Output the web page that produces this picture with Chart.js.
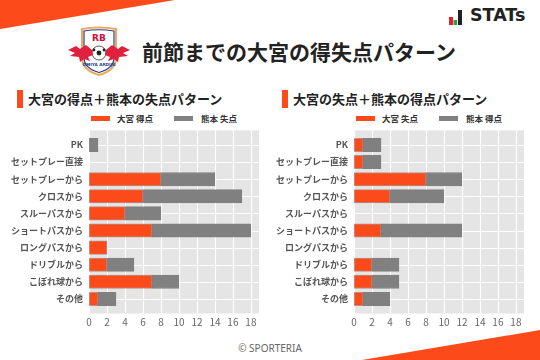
<!DOCTYPE html>
<html lang="ja">
<head>
<meta charset="utf-8">
<script src="https://cdn.jsdelivr.net/npm/chart.js@4.4.1/dist/chart.umd.min.js"></script>
<style>
  html, body { margin: 0; padding: 0; background: #fff; }
  #page { position: relative; width: 540px; height: 360px; overflow: hidden; font-family: "Noto Sans CJK JP", "Noto Sans", sans-serif; }
  .abs { position: absolute; }
  .title { left: 142px; top: 36px; font-size: 21px; font-weight: bold; color: #222; white-space: nowrap; letter-spacing: 0px; }
  .sub { font-size: 13px; font-weight: bold; color: #222; white-space: nowrap; }
  .subbar { width: 6px; height: 18px; background: #fc4a1a; }
  .leg { font-size: 8.5px; font-weight: bold; color: #333; white-space: nowrap; }
  .legbox { width: 19px; height: 5px; }
  .stats { left: 470px; top: 5px; font-family: "DejaVu Sans", sans-serif; font-weight: bold; font-size: 17.5px; color: #222; }
  .copy { left: 0; width: 540px; top: 341px; text-align: center; font-family: "Noto Sans", sans-serif; font-size: 10px; color: #666; }
</style>
</head>
<body>
<div id="page">
  <svg class="abs" style="left:0;top:0" width="540" height="360">
    <polygon points="0,0 175,0 0,29" fill="#fc4a1a"/>
    <polygon points="362,360 540,330 540,360" fill="#fc4a1a"/>
    <!-- STATs icon -->
    <rect x="449" y="17" width="4" height="8" fill="#e8202a"/>
    <rect x="453.5" y="20" width="3.5" height="5" fill="#2aa040"/>
    <rect x="458" y="10" width="4" height="15" fill="#222"/>
    <!-- crest -->
    <path d="M82,29 Q99,26 116,29 L116,58 Q116,70 99,75 Q82,70 82,58 Z" fill="#fff" stroke="#f2a65a" stroke-width="2"/>
    <path d="M84,31 Q99,28.5 114,31 L114,58 Q114,68 99,72.5 Q84,68 84,58 Z" fill="#fff" stroke="#22408a" stroke-width="1.2"/>
    <text x="99" y="41" text-anchor="middle" font-family="DejaVu Sans" font-weight="bold" font-size="9" fill="#d0103a">RB</text>
    <circle cx="99" cy="53" r="7" fill="#fff" stroke="#333" stroke-width="0.8"/>
    <circle cx="99" cy="53" r="2.4" fill="#222"/>
    <circle cx="94" cy="50" r="1.4" fill="#222"/>
    <circle cx="104" cy="50" r="1.4" fill="#222"/>
    <path d="M68,50 L76,46 L80,49 L86,45 L92,50 L93,55 L88,57 L90,61 L84,59 L80,62 L79,57 L70,56 L75,53 Z" fill="#e0203c"/>
    <path d="M130,50 L122,46 L118,49 L112,45 L106,50 L105,55 L110,57 L108,61 L114,59 L118,62 L119,57 L128,56 L123,53 Z" fill="#e0203c"/>
    <text x="99" y="66" text-anchor="middle" font-family="DejaVu Sans" font-weight="bold" font-size="4.2" fill="#22408a">OMIYA ARDIJA</text>
  </svg>
  <div class="abs stats">STATs</div>
  <div class="abs title">前節までの大宮の得失点パターン</div>

  <div class="abs subbar" style="left:17px;top:90px"></div>
  <div class="abs sub" style="left:28px;top:89px">大宮の得点＋熊本の失点パターン</div>
  <div class="abs subbar" style="left:282px;top:90px"></div>
  <div class="abs sub" style="left:293px;top:89px">大宮の失点＋熊本の得点パターン</div>

  <div class="abs legbox" style="left:91px;top:116px;background:#fc4a1a"></div>
  <div class="abs leg" style="left:117px;top:112px">大宮 得点</div>
  <div class="abs legbox" style="left:174px;top:116px;background:#808080"></div>
  <div class="abs leg" style="left:201px;top:112px">熊本 失点</div>
  <div class="abs legbox" style="left:356px;top:116px;background:#fc4a1a"></div>
  <div class="abs leg" style="left:382px;top:112px">大宮 失点</div>
  <div class="abs legbox" style="left:439px;top:116px;background:#808080"></div>
  <div class="abs leg" style="left:466px;top:112px">熊本 得点</div>

  <div class="abs" style="left:0;top:125px;width:270px;height:208px"><canvas id="leftChart" width="270" height="208"></canvas></div>
  <div class="abs" style="left:270px;top:125px;width:270px;height:208px"><canvas id="rightChart" width="270" height="208"></canvas></div>

  <div class="abs copy">© SPORTERIA</div>
</div>
<script>
const categories = ['PK', 'セットプレー直接', 'セットプレーから', 'クロスから', 'スルーパスから', 'ショートパスから', 'ロングパスから', 'ドリブルから', 'こぼれ球から', 'その他'];
const xTicks = [0, 2, 4, 6, 8, 10, 12, 14, 16, 18];

// left: 大宮 得点 + 熊本 失点
const omiyaScored = [0, 0, 8, 6, 4, 7, 2, 2, 7, 1];
const kumamotoConceded = [1, 0, 6, 11, 4, 11, 0, 3, 3, 2];
// right: 大宮 失点 + 熊本 得点
const omiyaConceded = [1, 1, 8, 4, 0, 3, 0, 2, 2, 1];
const kumamotoScored = [2, 2, 4, 6, 0, 9, 0, 3, 3, 3];

const ORANGE = '#fc4a1a';
const GREY = '#808080';
const FONT = '"Noto Sans CJK JP", "Noto Sans", sans-serif';

const panelBg = {
  id: 'panelBg',
  beforeDatasetsDraw(chart) {
    const { ctx, chartArea: a, scales } = chart;
    const ext = 6;
    ctx.save();
    ctx.fillStyle = '#e5e5e5';
    ctx.fillRect(a.left, a.top - ext, a.right - a.left, a.bottom - a.top + ext * 2);
    ctx.strokeStyle = '#ffffff';
    ctx.lineWidth = 1.2;
    xTicks.forEach((v) => {
      const x = Math.round(scales.x.getPixelForValue(v)) + 0.5;
      ctx.beginPath();
      ctx.moveTo(x, a.top - ext);
      ctx.lineTo(x, a.bottom + ext);
      ctx.stroke();
    });
    categories.forEach((c, i) => {
      const y = Math.round(scales.y.getPixelForValue(i)) + 0.5;
      ctx.beginPath();
      ctx.moveTo(a.left, y);
      ctx.lineTo(a.right, y);
      ctx.stroke();
    });
    ctx.restore();
  },
};

function makeChart(canvasId, first, second, labels, yWidth, rightPad) {
  return new Chart(document.getElementById(canvasId), {
    type: 'bar',
    data: {
      labels: categories,
      datasets: [
        { label: labels[0], data: first, backgroundColor: ORANGE, borderColor: 'rgba(120,40,20,0.45)', borderWidth: 1 },
        { label: labels[1], data: second, backgroundColor: GREY, borderColor: 'rgba(60,60,60,0.6)', borderWidth: 1 },
      ],
    },
    options: {
      indexAxis: 'y',
      responsive: false,
      animation: false,
      layout: { padding: { top: 10.4, right: rightPad, bottom: 0, left: 0 } },
      plugins: { legend: { display: false }, tooltip: { enabled: false } },
      datasets: { bar: { barThickness: 13.4, borderSkipped: false } },
      scales: {
        x: {
          stacked: true,
          min: 0,
          max: 18.9,
          border: { display: false },
          grid: { display: false, drawTicks: false },
          ticks: { stepSize: 2, includeBounds: false, padding: 9, color: '#666', font: { family: FONT, size: 10 } },
          afterFit: (s) => { s.height = 25.5; },
        },
        y: {
          stacked: true,
          border: { display: false },
          grid: { display: false, drawTicks: false },
          ticks: { padding: 6, color: '#555', font: { family: FONT, size: 9, weight: 'bold' } },
          afterFit: (s) => { s.width = yWidth; },
        },
      },
    },
    plugins: [panelBg],
  });
}

makeChart('leftChart', omiyaScored, kumamotoConceded, ['大宮 得点', '熊本 失点'], 89, 11);
makeChart('rightChart', omiyaConceded, kumamotoScored, ['大宮 失点', '熊本 得点'], 84, 16);
</script>
</body>
</html>
